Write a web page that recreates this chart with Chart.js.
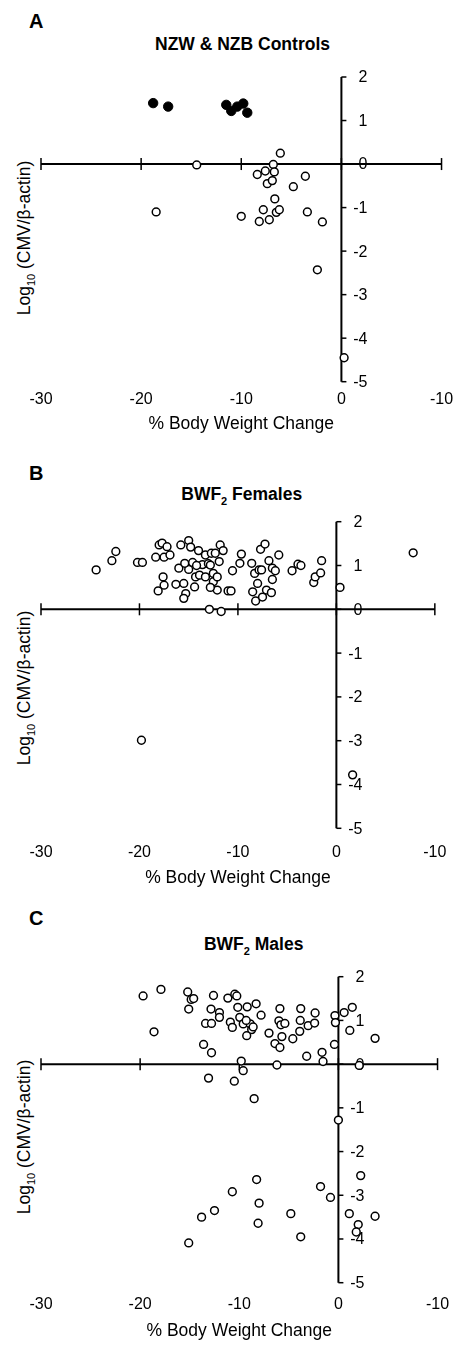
<!DOCTYPE html>
<html lang="en">
<head>
<meta charset="UTF-8" />
<title>CMV load vs body weight change</title>
<script src="https://cdn.jsdelivr.net/npm/chart.js"></script>
<style>
  body { margin: 0; background: #fff; font-family: "Liberation Sans", Arial, sans-serif; color: #000; }
  .page { position: relative; width: 461px; height: 1345px; overflow: hidden; background: #fff; }
  .letter { position: absolute; left: 29px; font-weight: bold; font-size: 20px; line-height: 1; }
  .title { position: absolute; font-weight: bold; font-size: 17.5px; line-height: 1; white-space: nowrap; transform: translateX(-50%); }
  .ytitle { position: absolute; font-size: 17.5px; line-height: 1; white-space: nowrap; transform: translate(-50%, -50%) rotate(-90deg); }
  sub { font-size: 11px; line-height: 0; }
  canvas { position: absolute; left: 0; }
</style>
</head>
<body>
<div class="page">
  <div class="letter" style="top:10.5px">A</div>
  <div class="title" style="left:242.5px; top:35.8px">NZW &amp; NZB Controls</div>
  <div class="ytitle" style="left:25px; top:238px">Log<sub>10</sub> (CMV/β-actin)</div>
  <canvas id="chartA" width="461" height="440"></canvas>

  <div class="letter" style="top:463.2px">B</div>
  <div class="title" style="left:241.7px; top:485.5px">BWF<sub>2</sub> Females</div>
  <div class="ytitle" style="left:25px; top:688px">Log<sub>10</sub> (CMV/β-actin)</div>
  <canvas id="chartB" width="461" height="440"></canvas>

  <div class="letter" style="top:908.2px">C</div>
  <div class="title" style="left:253.7px; top:935.5px">BWF<sub>2</sub> Males</div>
  <div class="ytitle" style="left:25px; top:1137px">Log<sub>10</sub> (CMV/β-actin)</div>
  <canvas id="chartC" width="461" height="440"></canvas>
</div>

<script>
  // axis ticks (right-hand "-10" is how the original figure labels +10)
  const xTickValues = [-30, -20, -10, 0, 10];
  const xTickLabels = ["-30", "-20", "-10", "0", "-10"];
  const yTickValues = [2, 1, 0, -1, -2, -3, -4, -5];
  const yTickLabels = ["2", "1", "0", "-1", "-2", "-3", "-4", "-5"];

  // A: NZW & NZB controls
  const ctrlFilledX = [-18.8, -17.3, -11.5, -11.0, -10.4, -9.8, -9.4];
  const ctrlFilledY = [1.40, 1.32, 1.36, 1.22, 1.32, 1.39, 1.18];
  const ctrlOpenX = [-14.45, -6.1, -6.8, -8.4, -7.6, -6.7, -7.4, -6.9, -4.8, -3.6, -6.65,
                     -18.5, -10.0, -7.8, -8.2, -7.2, -6.5, -6.2, -3.4, -1.9, -2.4, 0.27];
  const ctrlOpenY = [-0.02, 0.25, -0.01, -0.24, -0.16, -0.18, -0.45, -0.38, -0.52, -0.28, -0.80,
                     -1.10, -1.20, -1.05, -1.32, -1.28, -1.11, -1.05, -1.10, -1.33, -2.43, -4.45];

  // B: BWF2 females
  const femaleX = [-24.4, -22.8, -22.4, -20.2, -19.7, -18.35, -18.0, -17.7, -17.2, -17.5,
                   -16.9, -17.6, -17.5, -18.1, -16.3, -15.8, -16.0, -15.0, -14.8, -14.0,
                   -15.5, -15.3, -15.5, -15.0, -15.4, -14.6, -14.3, -14.4, -13.9, -13.3,
                   -12.7, -13.6, -13.0, -12.8, -13.3, -12.5, -12.9, -11.7, -11.8, -11.5,
                   -12.3, -11.9, -12.5, -12.1, -12.1, -11.0, -10.7, -10.55, -9.8, -9.65,
                   -8.6, -8.3, -7.85, -7.6, -8.0, -8.5, -8.2, -7.5, -7.1, -6.6,
                   -7.7, -7.25, -6.85, -6.5, -6.2, -6.5, -5.85, -4.5, -3.9, -3.6,
                   -2.3, -2.15, -1.6, -1.5, 0.37, 7.8, -19.8, 1.65, -12.8, -14.2];
  const femaleY = [0.90, 1.11, 1.32, 1.07, 1.07, 1.19, 1.47, 1.51, 1.43, 1.19,
                   1.24, 0.74, 0.55, 0.42, 0.57, 1.47, 0.94, 1.57, 1.42, 1.34,
                   0.59, 0.36, 0.25, 0.91, 1.05, 1.07, 0.74, 0.51, 0.78, 1.24,
                   1.28, 1.02, 1.04, 1.01, 0.74, 0.63, 0.00, -0.05, 1.47, 1.34,
                   1.28, 1.09, 0.82, 0.74, 0.44, 0.42, 0.42, 0.88, 1.05, 1.26,
                   1.05, 0.82, 0.90, 0.90, 0.59, 0.40, 0.19, 0.28, 0.44, 0.38,
                   1.37, 1.49, 1.11, 0.94, 0.88, 0.68, 1.24, 0.88, 1.03, 1.00,
                   0.61, 0.74, 0.83, 1.11, 0.50, 1.29, -2.99, -3.78, 0.50, 1.00];

  // C: BWF2 males
  const maleX = [-19.7, -17.9, -18.6, -15.2, -14.85, -14.6, -15.1, -12.6, -12.85, -12.0,
                 -12.0, -13.4, -12.8, -13.6, -12.8, -11.15, -10.45, -10.25, -10.15, -10.9,
                 -10.7, -9.95, -9.6, -8.9, -9.2, -8.3, -7.8, -8.75, -9.25, -9.8,
                 -9.6, -7.0, -6.4, -5.9, -6.0, -5.8, -5.4, -5.7, -5.9, -6.2,
                 -4.6, -3.8, -3.85, -3.9, -3.05, -2.35, -2.4, -3.2, -1.65, -1.55,
                 -0.35, -0.3, 0.58, 1.4, 1.15, -0.4, 3.7, 2.1, -9.3, -8.6,
                 -13.1, -10.5, -8.5, 0.0, -8.25, -10.7, -12.5, -13.8, -15.1, -8.0,
                 -8.1, -4.8, -3.8, -1.8, -0.8, 2.25, 1.1, 2.0, 1.8, 3.7];
  const maleY = [1.56, 1.71, 0.74, 1.65, 1.48, 1.50, 1.26, 1.57, 1.26, 1.18,
                 1.07, 0.93, 0.93, 0.45, 0.26, 1.51, 1.60, 1.56, 1.30, 0.96,
                 0.84, 1.07, 0.92, 0.92, 1.31, 1.38, 1.12, 0.79, 0.65, 0.07,
                 -0.15, 0.71, 0.47, 1.27, 0.99, 0.90, 0.93, 0.63, 0.38, -0.02,
                 0.58, 1.27, 1.00, 0.75, 0.88, 1.17, 0.94, 0.18, 0.27, 0.06,
                 1.11, 0.95, 1.18, 1.30, 0.77, 0.45, 0.59, -0.03, 1.00, 0.85,
                 -0.32, -0.39, -0.79, -1.28, -2.64, -2.92, -3.35, -3.50, -4.09, -3.18,
                 -3.64, -3.42, -3.95, -2.80, -3.05, -2.55, -3.42, -3.67, -3.84, -3.48];

  const FONT = "'Liberation Sans', Arial, sans-serif";
  const TICK_SIZE = 16, TICK_LH = 16 * 1.2;
  const TITLE_SIZE = 17.5, TITLE_LH = 17.5 * 1.2;

  function toPoints(xs, ys) {
    return xs.map((x, i) => ({ x: x, y: ys[i] }));
  }

  function openSet(xs, ys) {
    return {
      data: toPoints(xs, ys),
      pointRadius: 3.9,
      pointBorderWidth: 1.5,
      pointBorderColor: "#000",
      pointBackgroundColor: "#fff",
      showLine: false
    };
  }

  function filledSet(xs, ys) {
    return {
      data: toPoints(xs, ys),
      pointRadius: 4.7,
      pointBorderWidth: 1,
      pointBorderColor: "#000",
      pointBackgroundColor: "#000",
      showLine: false
    };
  }

  // axes crossing at (0,0): horizontal line at y=0, vertical line at x=0 with labels on its right
  const crossAxes = {
    id: "crossAxes",
    beforeDatasetsDraw(chart) {
      const { ctx, scales: { x, y } } = chart;
      const x0 = x.getPixelForValue(0);
      const y0 = y.getPixelForValue(0);
      ctx.save();
      ctx.strokeStyle = "#000";
      ctx.fillStyle = "#000";

      ctx.lineWidth = 2;
      ctx.beginPath();
      ctx.moveTo(x.getPixelForValue(xTickValues[0]), y0);
      ctx.lineTo(x.getPixelForValue(xTickValues[xTickValues.length - 1]), y0);
      ctx.stroke();

      ctx.lineWidth = 1.5;
      xTickValues.forEach(v => {
        const px = x.getPixelForValue(v);
        ctx.beginPath();
        ctx.moveTo(px, y0 - 6);
        ctx.lineTo(px, y0 + 6);
        ctx.stroke();
      });

      ctx.lineWidth = 2;
      ctx.beginPath();
      ctx.moveTo(x0, y.getPixelForValue(yTickValues[0]));
      ctx.lineTo(x0, y.getPixelForValue(yTickValues[yTickValues.length - 1]));
      ctx.stroke();

      ctx.lineWidth = 1.5;
      ctx.font = TICK_SIZE + "px " + FONT;
      ctx.textAlign = "right";
      ctx.textBaseline = "middle";
      yTickValues.forEach((v, i) => {
        const py = y.getPixelForValue(v);
        ctx.beginPath();
        ctx.moveTo(x0, py);
        ctx.lineTo(x0 + 5, py);
        ctx.stroke();
        ctx.fillText(yTickLabels[i], x0 + 26, py + 1);
      });
      ctx.restore();
    }
  };

  // plotTop/plotBottom: page y of the 2 and -5 levels; labelMid/titleMid: page y of x tick labels and x title
  function makePanel(id, canvasTop, plotTop, plotBottom, labelMid, titleMid, datasets) {
    const canvas = document.getElementById(id);
    const tickPad = labelMid - plotBottom - TICK_LH / 2;
    const bottom = Math.round(titleMid + TITLE_LH / 2);
    const h = bottom - canvasTop;
    const axisH = bottom - plotBottom;
    const titleTop = axisH - 2 * tickPad - TICK_LH - TITLE_LH;
    canvas.height = h;
    canvas.style.top = canvasTop + "px";
    canvas.style.height = h + "px";
    canvas.style.width = "461px";

    return new Chart(canvas.getContext("2d"), {
      type: "scatter",
      data: { datasets: datasets },
      options: {
        responsive: false,
        animation: false,
        devicePixelRatio: 1,
        layout: { padding: { top: plotTop - canvasTop, left: 41, right: 16, bottom: 0 } },
        plugins: { legend: { display: false }, tooltip: { enabled: false } },
        scales: {
          x: {
            type: "linear",
            min: -30,
            max: 10,
            position: "bottom",
            grid: { display: false, drawTicks: false },
            border: { display: false },
            ticks: {
              stepSize: 10,
              padding: tickPad,
              color: "#000",
              maxRotation: 0,
              autoSkip: false,
              font: { size: TICK_SIZE, family: FONT },
              callback: (v) => {
                const i = xTickValues.indexOf(v);
                return i >= 0 ? xTickLabels[i] : "";
              }
            },
            title: {
              display: true,
              text: "% Body Weight Change",
              color: "#000",
              font: { size: TITLE_SIZE, family: FONT },
              padding: { top: titleTop, bottom: 0 }
            }
          },
          y: { type: "linear", min: -5, max: 2, display: false }
        }
      },
      plugins: [crossAxes]
    });
  }

  makePanel("chartA", 0, 77, 381.7, 399.2, 424, [filledSet(ctrlFilledX, ctrlFilledY), openSet(ctrlOpenX, ctrlOpenY)]);
  makePanel("chartB", 445, 521.7, 828.3, 852.5, 878, [openSet(femaleX, femaleY)]);
  makePanel("chartC", 900, 976.7, 1282.7, 1304.2, 1331.5, [openSet(maleX, maleY)]);
</script>
</body>
</html>
